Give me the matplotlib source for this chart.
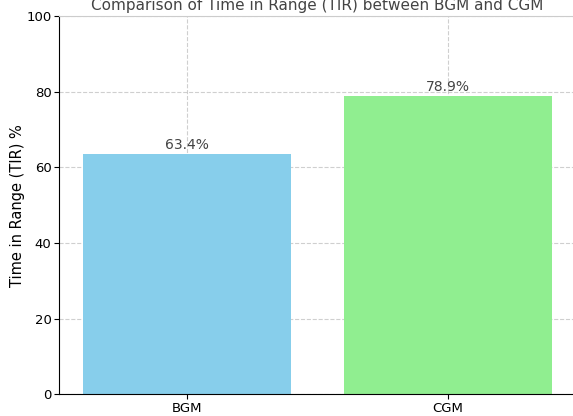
"""
bar chart: time in range for BGM vs CGM
"""
import matplotlib
matplotlib.use("Agg")
import matplotlib.pyplot as plt

methods = ["BGM", "CGM"]
tir_values = [63.4, 78.9]
bar_colors = ["skyblue", "lightgreen"]


def main():
    fig = plt.figure(figsize=(5.73, 4.16), dpi=100)
    ax = fig.add_axes([0.103, 0.052, 0.902, 0.9095])

    bars = ax.bar(methods, tir_values, color=bar_colors, width=0.8, zorder=2)
    for bar, value in zip(bars, tir_values):
        ax.text(bar.get_x() + bar.get_width() / 2, value + 0.6, f"{value}%",
                ha="center", va="bottom", fontsize=10, color="#444444")

    ax.set_ylim(0, 100)
    ax.set_ylabel("Time in Range (TIR) %", fontsize=10.5, labelpad=1)
    ax.set_title("Comparison of Time in Range (TIR) between BGM and CGM",
                 fontsize=11, color="#444444", pad=4)
    ax.grid(True, linestyle="--", alpha=0.6, zorder=0)
    ax.tick_params(labelsize=9.5, pad=2)
    ax.spines["top"].set_color("#cccccc")
    ax.spines["right"].set_visible(False)

    fig.savefig("out.png", dpi=100)


if __name__ == "__main__":
    main()
